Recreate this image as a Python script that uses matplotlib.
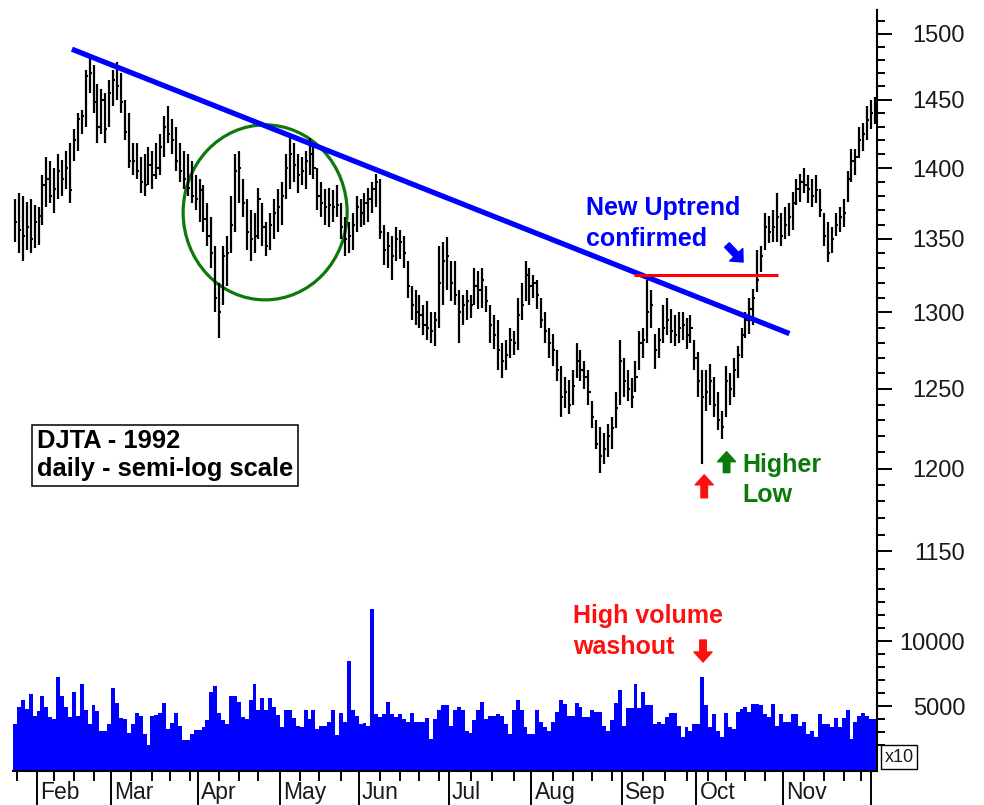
import numpy as np
import matplotlib
matplotlib.use("Agg")
import matplotlib.pyplot as plt
from matplotlib.patches import Ellipse
from matplotlib.transforms import ScaledTranslation, blended_transform_factory
from matplotlib.ticker import FixedLocator, FixedFormatter, NullFormatter

plt.rcParams['font.family'] = ['Liberation Sans', 'DejaVu Sans']

# DJTA 1992 daily bars (late Jan .. end Nov), one entry per trading day
highs = [
    1378, 1382, 1380, 1376, 1378, 1374, 1372, 1395, 1408, 1405,
    1400, 1410, 1406, 1412, 1418, 1428, 1440, 1442, 1472, 1484,
    1476, 1462, 1458, 1455, 1465, 1472, 1478, 1470, 1450, 1440,
    1418, 1418, 1408, 1410, 1415, 1412, 1418, 1425, 1438, 1445,
    1436, 1430, 1418, 1412, 1410, 1405, 1395, 1392, 1388, 1375,
    1365, 1345, 1320, 1345, 1352, 1380, 1410, 1412, 1392, 1378,
    1370, 1368, 1386, 1375, 1362, 1368, 1378, 1385, 1390, 1410,
    1425, 1418, 1410, 1408, 1412, 1422, 1418, 1400, 1390, 1385,
    1386, 1384, 1388, 1375, 1365, 1362, 1368, 1380, 1378, 1382,
    1386, 1390, 1396, 1392, 1360, 1355, 1352, 1358, 1356, 1352,
    1335, 1318, 1315, 1312, 1305, 1308, 1300, 1300, 1345, 1348,
    1351, 1335, 1335, 1315, 1312, 1315, 1312, 1330, 1328, 1330,
    1318, 1305, 1298, 1295, 1280, 1282, 1290, 1288, 1310, 1320,
    1335, 1330, 1325, 1322, 1310, 1300, 1290, 1286, 1275, 1265,
    1258, 1256, 1262, 1280, 1275, 1268, 1262, 1242, 1230, 1226,
    1222, 1228, 1232, 1248, 1282, 1270, 1262, 1257, 1268, 1288,
    1290, 1322, 1315, 1286, 1290, 1305, 1310, 1302, 1298, 1300,
    1300, 1296, 1298, 1282, 1274, 1262, 1262, 1266, 1258, 1248,
    1236, 1265, 1260, 1270, 1278, 1290, 1300, 1310, 1316, 1342,
    1345, 1368, 1366, 1370, 1382, 1368, 1372, 1375, 1383, 1392,
    1396, 1400, 1395, 1392, 1395, 1385, 1368, 1362, 1358, 1368,
    1372, 1378, 1398, 1414, 1414, 1430, 1433, 1445, 1450, 1452,
]
lows = [
    1348, 1340, 1335, 1342, 1340, 1344, 1346, 1360, 1372, 1375,
    1368, 1378, 1380, 1385, 1375, 1405, 1412, 1425, 1430, 1455,
    1440, 1418, 1425, 1418, 1430, 1445, 1450, 1440, 1420, 1400,
    1395, 1392, 1382, 1380, 1388, 1385, 1392, 1395, 1408, 1418,
    1410, 1398, 1390, 1385, 1380, 1375, 1370, 1362, 1355, 1345,
    1330, 1300, 1283, 1305, 1318, 1340, 1355, 1375, 1365, 1342,
    1335, 1340, 1350, 1345, 1338, 1342, 1350, 1355, 1360, 1378,
    1385, 1390, 1382, 1388, 1385, 1395, 1392, 1370, 1365, 1360,
    1358, 1362, 1365, 1350, 1338, 1340, 1342, 1355, 1358, 1360,
    1362, 1368, 1372, 1350, 1332, 1330, 1322, 1335, 1336, 1330,
    1310, 1295, 1292, 1290, 1285, 1282, 1280, 1278, 1290, 1305,
    1315, 1308, 1305, 1280, 1292, 1295, 1296, 1305, 1302, 1303,
    1300, 1280, 1276, 1262, 1257, 1262, 1270, 1272, 1275, 1295,
    1308, 1305, 1310, 1302, 1290, 1280, 1270, 1265, 1255, 1232,
    1238, 1234, 1240, 1257, 1255, 1250, 1240, 1225, 1212, 1197,
    1203, 1207, 1212, 1225, 1240, 1245, 1242, 1238, 1248, 1262,
    1270, 1280, 1290, 1263, 1270, 1280, 1285, 1280, 1278, 1280,
    1282, 1276, 1280, 1262, 1245, 1203, 1236, 1240, 1232, 1224,
    1218, 1232, 1240, 1245, 1257, 1270, 1283, 1286, 1292, 1314,
    1327, 1342, 1347, 1348, 1348, 1345, 1350, 1352, 1356, 1374,
    1376, 1382, 1375, 1372, 1375, 1365, 1345, 1334, 1340, 1352,
    1355, 1358, 1376, 1390, 1395, 1407, 1412, 1420, 1428, 1432,
]
closes = [
    1362, 1356, 1352, 1358, 1350, 1362, 1366, 1388, 1392, 1380,
    1385, 1398, 1392, 1400, 1384, 1420, 1436, 1438, 1468, 1470,
    1448, 1430, 1450, 1428, 1455, 1465, 1460, 1448, 1426, 1405,
    1405, 1398, 1390, 1388, 1402, 1395, 1400, 1415, 1430, 1425,
    1420, 1405, 1398, 1392, 1386, 1380, 1378, 1384, 1364, 1352,
    1340, 1310, 1300, 1338, 1340, 1360, 1398, 1400, 1375, 1355,
    1350, 1352, 1378, 1358, 1345, 1360, 1368, 1372, 1380, 1400,
    1410, 1402, 1395, 1398, 1405, 1410, 1400, 1380, 1375, 1372,
    1374, 1372, 1374, 1358, 1350, 1352, 1360, 1372, 1368, 1375,
    1378, 1385, 1390, 1355, 1342, 1345, 1338, 1350, 1348, 1340,
    1318, 1305, 1300, 1298, 1292, 1290, 1288, 1295, 1320, 1335,
    1338, 1320, 1312, 1300, 1305, 1308, 1305, 1318, 1315, 1322,
    1308, 1292, 1285, 1275, 1268, 1272, 1282, 1280, 1298, 1305,
    1325, 1318, 1320, 1312, 1295, 1288, 1280, 1275, 1262, 1245,
    1248, 1240, 1252, 1268, 1262, 1258, 1248, 1232, 1215, 1208,
    1212, 1220, 1225, 1238, 1268, 1255, 1250, 1245, 1258, 1280,
    1282, 1300, 1305, 1275, 1282, 1290, 1295, 1288, 1285, 1290,
    1292, 1285, 1290, 1270, 1255, 1245, 1248, 1255, 1240, 1230,
    1226, 1255, 1250, 1262, 1272, 1285, 1295, 1302, 1310, 1322,
    1338, 1358, 1355, 1358, 1365, 1352, 1360, 1365, 1375, 1385,
    1390, 1388, 1385, 1380, 1384, 1370, 1352, 1340, 1350, 1360,
    1365, 1368, 1392, 1405, 1408, 1420, 1425, 1435, 1440, 1438,
]
# volume in the chart's units (x10)
volume = [
    3650, 4900, 5450, 4800, 5950, 4200, 4600, 5800, 4900, 4150,
    4000, 7200, 5800, 4900, 4150, 6100, 4200, 6700, 4700, 3650,
    5050, 4600, 3050, 3050, 3650, 6400, 5200, 4100, 4000, 2900,
    3600, 4500, 4200, 2850, 2000, 4200, 4300, 4500, 5200, 3250,
    3700, 4500, 3450, 2400, 2400, 2850, 3150, 3150, 3350, 3900,
    6100, 6550, 4500, 3900, 3600, 5800, 5800, 5300, 4150, 4000,
    5450, 6700, 4700, 5600, 4700, 5600, 4950, 4300, 3400, 4700,
    4700, 4100, 3450, 3400, 4700, 4000, 4700, 3250, 3450, 3500,
    3800, 4700, 2800, 4500, 3800, 8500, 4700, 4200, 3600, 3700,
    3500, 12500, 4350, 4150, 4350, 5300, 4350, 4150, 4350, 4000,
    3800, 4500, 3800, 3800, 3800, 4100, 2450, 4000, 4700, 5050,
    5050, 3450, 4700, 4900, 4700, 3050, 2900, 3900, 4700, 5300,
    4000, 4200, 4200, 4350, 4200, 3600, 2850, 4700, 5450, 4700,
    3400, 2850, 2850, 4700, 3800, 3400, 3050, 3800, 4550, 5450,
    5150, 4200, 4200, 5200, 4900, 4150, 4150, 4700, 4550, 4550,
    3450, 3050, 3900, 5200, 6250, 3450, 4850, 4850, 6700, 4850,
    6100, 5050, 5050, 3600, 3800, 3600, 4150, 4500, 4500, 3450,
    2600, 3350, 3050, 3600, 3600, 7200, 5050, 3400, 4350, 3050,
    2600, 4500, 3400, 3250, 4550, 4750, 4900, 4550, 5150, 5150,
    5050, 4350, 4150, 5150, 3450, 4350, 3800, 3800, 4350, 4350,
    3450, 3800, 2850, 3050, 2600, 4350, 3600, 3600, 3400, 4100,
    3400, 4100, 4700, 2450, 3800, 4200, 4500, 4200, 4000, 4000,
]

months = ['Feb', 'Mar', 'Apr', 'May', 'Jun', 'Jul', 'Aug', 'Sep', 'Oct', 'Nov']
month_ticks = [5.5, 24.5, 46.5, 67.5, 87.5, 110.5, 131.5, 154.5, 173.5, 195.5, 218.0]
week_ticks = [0.5, 10, 15, 20, 29.5, 35, 39.5, 44.5, 52, 57, 62, 72.5, 77.5, 83,
              93, 98, 103, 108, 116, 121.5, 127, 137, 142, 147, 152, 160, 165.5,
              171, 176.5, 181, 186, 191, 201, 206, 211, 215.5]
price_labels = [1150, 1200, 1250, 1300, 1350, 1400, 1450, 1500]
volume_labels = [5000, 10000]

# drawn-in annotations (trading-day index, price)
trend_x = [14.5, 197.2]
trend_y = [1488, 1286]
resist_x = [157.6, 194.2]
resist_y = [1325, 1325]

BLUE = '#0000ff'
RED = '#ff1010'
GREEN = '#0b7a0b'
TXT = '#1a1a1a'

idx = np.arange(len(closes))

fig = plt.figure(figsize=(9.84, 8.05), dpi=100)
W, H = 984.0, 805.0
ax = fig.add_axes([13 / W, 1 - 585 / H, 864 / W, 575 / H])
axv = fig.add_axes([13 / W, 1 - 771 / H, 864 / W, 186 / H], sharex=ax)
for a in (ax, axv):
    a.set_facecolor('none')

# price bars: high-low line with a close tick
ax.vlines(idx, lows, highs, color='black', lw=1.6)
ax.hlines(closes, idx, idx + 0.55, color='black', lw=1.5)

ax.set_yscale('log')
ax.set_ylim(1130.4, 1518.2)
ax.set_xlim(-0.5, 219.5)

ax.plot(trend_x, trend_y, color=BLUE, lw=3.8, solid_capstyle='butt')
ax.plot(resist_x, resist_y, color='#ff0000', lw=2.2, solid_capstyle='butt')

circle = Ellipse((0, 0), 1.64, 1.75, fill=False, ec=GREEN, lw=2.3,
                 transform=fig.dpi_scale_trans + ScaledTranslation(63.7, 1368.5, ax.transData),
                 clip_on=False)
ax.add_patch(circle)

# volume
axv.bar(idx, volume, width=1.0, color=BLUE, linewidth=0)
axv.set_ylim(0, 14308)

# axes styling
for a in (ax, axv):
    for s in ('left', 'top'):
        a.spines[s].set_visible(False)
    a.spines['right'].set_linewidth(1.5)
    a.yaxis.tick_right()
    a.tick_params(axis='y', which='major', length=11, width=1.4, pad=52.5,
                  labelsize=17, labelcolor=TXT)
    a.tick_params(axis='y', which='minor', length=6, width=1.4)
ax.spines['bottom'].set_visible(False)
ax.tick_params(axis='x', which='both', bottom=False, labelbottom=False)
axv.spines['bottom'].set_linewidth(1.5)

ax.yaxis.set_major_locator(FixedLocator(price_labels))
ax.yaxis.set_major_formatter(FixedFormatter([str(v) for v in price_labels]))
ax.yaxis.set_minor_locator(FixedLocator(np.arange(1140, 1511, 10)))
ax.yaxis.set_minor_formatter(NullFormatter())

axv.yaxis.set_major_locator(FixedLocator(volume_labels))
axv.yaxis.set_major_formatter(FixedFormatter([str(v) for v in volume_labels]))
axv.yaxis.set_minor_locator(FixedLocator(np.arange(2000, 14001, 1000)))

axv.xaxis.set_major_locator(FixedLocator(month_ticks))
axv.xaxis.set_minor_locator(FixedLocator(week_ticks))
axv.tick_params(axis='x', which='major', length=25, width=1.4, labelbottom=False)
axv.tick_params(axis='x', which='minor', length=7, width=1.4)

for a in (ax, axv):
    for lbl in a.get_yticklabels():
        lbl.set_horizontalalignment('right')

# month names to the right of each month tick
trans = blended_transform_factory(axv.transData, axv.transAxes)
for m, name in zip(month_ticks, months):
    axv.text(m + 0.8, -0.150, name, transform=trans, va='baseline', ha='left',
             fontsize=16.5, color=TXT)

axv.text(1.0085, 0.075, 'x10', transform=axv.transAxes, va='center', ha='left',
         fontsize=13, color=TXT,
         bbox=dict(boxstyle='square,pad=0.18', fc='white', ec='black', lw=1.0))


def note(axis, x, y, lines, color, size=18, step=22.3):
    for k, line in enumerate(lines):
        axis.annotate(line, (x, y), xytext=(0, -k * step), textcoords='offset points',
                      va='top', ha='left', fontsize=size, fontweight='bold', color=color)


def arrow(axis, tail, head, color):
    axis.annotate('', xy=head, xytext=tail,
                  arrowprops=dict(arrowstyle='simple,head_length=0.72,head_width=1.3,tail_width=0.47',
                                  color=color, mutation_scale=10, shrinkA=0, shrinkB=0))


note(ax, 145.4, 1380, ['New Uptrend', 'confirmed'], BLUE)
arrow(ax, (181.3, 1345.8), (185.4, 1334.1), BLUE)
note(ax, 185.1, 1209.9, ['Higher', 'Low'], GREEN)
arrow(ax, (181.2, 1197.5), (181.2, 1210.4), GREEN)
arrow(ax, (175.5, 1182.1), (175.5, 1196.1), RED)
note(axv, 142.2, 12846, ['High volume', 'washout'], RED)
arrow(axv, (175.2, 10077), (175.2, 8385), RED)

ax.text(5.6, 1224.5, 'DJTA - 1992\ndaily - semi-log scale', va='top', ha='left',
        fontsize=18.4, fontweight='bold', color='black', linespacing=1.2,
        bbox=dict(boxstyle='square,pad=0.18', fc='white', ec='black', lw=1.1))

fig.savefig('out.png', dpi=100)
